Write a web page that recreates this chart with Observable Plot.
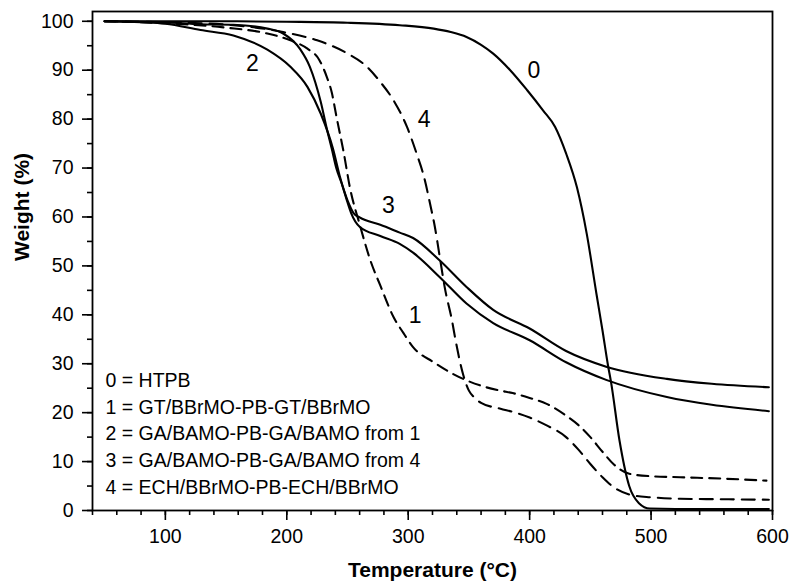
<!DOCTYPE html>
<html><head><meta charset="utf-8">
<script src="https://cdn.jsdelivr.net/npm/d3@7"></script>
<script src="https://cdn.jsdelivr.net/npm/@observablehq/plot@0.6"></script>
<style>body{margin:0;background:#fff}</style>
</head><body><div id="chart"></div>
<script>
// Curve 0 = HTPB (solid)
const temp0 = [50, 100, 150, 200, 250, 293, 321, 335, 348, 360, 370, 384, 398, 411, 421, 430, 439, 447, 455, 460, 464.5, 467, 474, 482, 490, 499, 520, 597];
const weight0 = [100, 100, 100, 99.9, 99.7, 99.2, 98.5, 97.8, 96.8, 95.2, 93.4, 90, 85.9, 81.8, 78.4, 73, 66, 56.6, 44.3, 36.8, 29.7, 26.3, 14.3, 5, 1.5, 0.4, 0.3, 0.3];
// Curve 1 = GT/BBrMO-PB-GT/BBrMO (dashed)
const temp1 = [50, 100, 150, 184, 203, 217, 227, 233, 237, 241, 247, 252, 260, 269, 277, 288, 296, 304, 321, 334, 348, 360, 376, 386, 400, 414, 430, 440, 450, 460, 469, 482, 500, 524, 560, 595];
const weight1 = [100, 99.6, 98.7, 97.5, 96.1, 94.4, 92, 88.6, 85.5, 80.4, 73, 66, 58.5, 51, 46, 39.5, 36.3, 33.4, 30.3, 28.3, 26.6, 25.5, 24.5, 24, 23, 21.8, 19.4, 17.5, 15, 12, 9.5, 7.5, 7, 6.8, 6.5, 6.1];
// Curve 2 = GA/BAMO-PB-GA/BAMO from 1 (solid)
const temp2 = [50, 80, 100, 129, 156, 184, 203, 217, 228, 238, 244, 249, 253, 260, 277, 293, 304, 326, 348, 370, 400, 430, 463, 513, 550, 597];
const weight2 = [100, 99.8, 99.5, 98.2, 97.1, 94.2, 90.7, 86.6, 81.1, 74, 68, 63.8, 60.8, 58, 56.1, 54.5, 52.7, 47.7, 42.3, 38.3, 34.8, 30.3, 26.7, 23.2, 21.6, 20.3];
// Curve 3 = GA/BAMO-PB-GA/BAMO from 4 (solid)
const temp3 = [50, 100, 129, 156, 184, 197, 211, 219, 228, 233, 237, 241, 245, 250, 255, 260, 277, 293, 304, 326, 348, 370, 400, 430, 463, 513, 550, 597];
const weight3 = [100, 99.8, 99.4, 99.3, 98.5, 97.5, 94.3, 90.7, 83.5, 78, 74, 69.8, 67, 63.4, 60.8, 59.9, 58.4, 56.8, 55.7, 51.1, 45.7, 41, 37.2, 32.6, 29.4, 26.9, 25.9, 25.2];
// Curve 4 = ECH/BBrMO-PB-ECH/BBrMO (dashed)
const temp4 = [50, 100, 156, 197, 225, 250, 266, 277, 288, 299, 307, 313, 318, 322, 326, 330, 336, 339, 345, 350, 354, 360, 376, 387, 400, 414, 430, 440, 450, 460, 469, 485, 500, 524, 560, 597];
const weight4 = [100, 99.8, 99.2, 97.8, 96.1, 93.4, 90.7, 87.6, 83.8, 78.4, 72.9, 68.2, 62.7, 57.9, 51.8, 45.7, 38.9, 34.8, 28, 24.5, 23.2, 22, 20.8, 20.1, 19, 17.4, 15, 12.5, 9.5, 6.8, 4.8, 3.1, 2.7, 2.4, 2.3, 2.2];

const xMajorTicks = [100, 200, 300, 400, 500, 600];
const xMinorTicks = d3.range(40, 601, 20);
const yMajorTicks = d3.range(0, 101, 10);
const yMinorTicks = d3.range(0, 101, 5);

const legendLines = [
  "0 = HTPB",
  "1 = GT/BBrMO-PB-GT/BBrMO",
  "2 = GA/BAMO-PB-GA/BAMO from 1",
  "3 = GA/BAMO-PB-GA/BAMO from 4",
  "4 = ECH/BBrMO-PB-ECH/BBrMO"
];
const curveLabels = ["0", "1", "2", "3", "4"];
const labelTemp = [403.6, 305.7, 171.6, 283.7, 313.1];
const labelWeight = [90, 39.8, 91.4, 62.4, 80];

const xTitle = "Temperature (°C)";
const yTitle = "Weight (%)";

const toRows = (T, W) => T.map((t, i) => ({t, w: W[i]}));
const rows0 = toRows(temp0, weight0);
const rows1 = toRows(temp1, weight1);
const rows2 = toRows(temp2, weight2);
const rows3 = toRows(temp3, weight3);
const rows4 = toRows(temp4, weight4);
const labelRows = curveLabels.map((s, i) => ({s, t: labelTemp[i], w: labelWeight[i]}));

const font = "'Liberation Sans', Arial, sans-serif";
const lineOpts = {x: "t", y: "w", stroke: "black", strokeWidth: 2.1, curve: "monotone-x"};

const chart = Plot.plot({
  width: 796,
  height: 584,
  marginLeft: 92,
  marginRight: 24,
  marginTop: 11,
  marginBottom: 74,
  style: {fontFamily: font, fontSize: "19.5px", color: "black", background: "white"},
  x: {domain: [40, 600]},
  y: {domain: [0, 102]},
  marks: [
    Plot.axisX(xMinorTicks, {tickSize: 5, tickFormat: () => "", strokeWidth: 1.6, label: null}),
    Plot.axisX(xMajorTicks, {tickSize: 10, tickPadding: 9, strokeWidth: 1.6, label: null, tickFormat: d3.format("d")}),
    Plot.axisY(yMinorTicks, {tickSize: 5, tickFormat: () => "", strokeWidth: 1.6, label: null}),
    Plot.axisY(yMajorTicks, {tickSize: 10, tickPadding: 9, strokeWidth: 1.6, label: null, tickFormat: d3.format("d")}),
    Plot.line(rows0, lineOpts),
    Plot.line(rows2, lineOpts),
    Plot.line(rows3, lineOpts),
    Plot.line(rows1, {...lineOpts, strokeDasharray: "11,7"}),
    Plot.line(rows4, {...lineOpts, strokeDasharray: "13,8"}),
    Plot.text(labelRows, {x: "t", y: "w", text: "s", fontSize: 23, fill: "black", lineAnchor: "middle"}),
    Plot.text([legendLines.join("\n")], {frameAnchor: "bottom-left", text: d => d, textAnchor: "start", lineAnchor: "bottom", lineHeight: 1.365, dx: 13, dy: -17, fill: "black", fontSize: 19.5}),
    Plot.text([xTitle], {frameAnchor: "bottom", text: d => d, dy: 60, fontWeight: "bold", fontSize: 21, fill: "black", lineAnchor: "middle"}),
    Plot.text([yTitle], {frameAnchor: "left", text: d => d, dx: -70, rotate: -90, fontWeight: "bold", fontSize: 21, fill: "black", lineAnchor: "middle"}),
    Plot.frame({stroke: "black", strokeWidth: 1.8})
  ]
});
document.getElementById("chart").append(chart);
</script>
</body></html>
